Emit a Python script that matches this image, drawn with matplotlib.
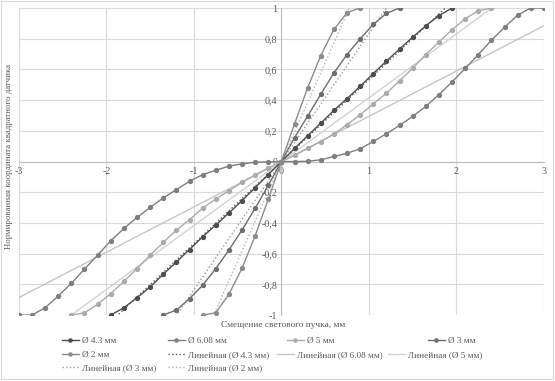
import numpy as np
import matplotlib
matplotlib.use('Agg')
import matplotlib.pyplot as plt
from matplotlib.patches import Rectangle

plt.rcParams['font.family'] = ['Liberation Serif', 'DejaVu Serif']

# смещение пучка, мм (шаг 0.15)
x_2 = np.round(np.arange(-0.9, 0.9001, 0.15), 2)
y_2 = [-1.0, -0.985, -0.865, -0.695, -0.484, -0.245, 0,
       0.245, 0.48, 0.69, 0.86, 0.97, 1.0]

x_3 = np.round(np.arange(-1.35, 1.3501, 0.15), 2)
y_3 = [-1.0, -0.967, -0.893, -0.806, -0.697, -0.577, -0.446, -0.305, -0.155, 0,
       0.155, 0.296, 0.438, 0.577, 0.697, 0.80, 0.893, 0.965, 1.0]

x_43 = np.round(np.arange(-1.95, 1.9501, 0.15), 2)
y_43 = [-1.0, -0.952, -0.887, -0.817, -0.734, -0.654, -0.573, -0.49, -0.414,
        -0.335, -0.255, -0.17, -0.085, 0,
        0.085, 0.168, 0.25, 0.333, 0.41, 0.49, 0.573, 0.654, 0.732, 0.81,
        0.884, 0.95, 1.0]

x_5 = np.round(np.arange(-2.4, 2.4001, 0.15), 2)
y_5 = [-1.0, -0.985, -0.93, -0.86, -0.78, -0.697, -0.61, -0.527, -0.446,
       -0.379, -0.303, -0.244, -0.19, -0.135, -0.088, -0.042, 0,
       0.04, 0.085, 0.13, 0.18, 0.24, 0.305, 0.375, 0.445, 0.525, 0.608,
       0.697, 0.778, 0.858, 0.93, 0.982, 1.0]

x_608 = np.round(np.arange(-3.0, 3.0001, 0.15), 2)
y_608 = [-1.0, -1.0, -0.952, -0.876, -0.793, -0.70, -0.61, -0.516, -0.436,
         -0.364, -0.299, -0.237, -0.183, -0.129, -0.085, -0.057, -0.03,
         -0.015, -0.005, -0.002, 0,
         0.0, 0.002, 0.011, 0.033, 0.054, 0.083, 0.131, 0.181, 0.235, 0.294,
         0.359, 0.436, 0.518, 0.606, 0.697, 0.79, 0.874, 0.954, 1.0, 1.0]

labels = ['Ø 4.3 мм', 'Ø 6.08 мм', 'Ø 5 мм', 'Ø 3 мм', 'Ø 2 мм']
xs = [x_43, x_608, x_5, x_3, x_2]
ys = [y_43, y_608, y_5, y_3, y_2]
colors = ['#4d4d4d', '#7f7f7f', '#ababab', '#6e6e6e', '#8c8c8c']
trend_colors = ['#5a5a5a', '#c6c6c6', '#d2d2d2', '#9a9a9a', '#b4b4b4']
trend_styles = [':', '-', '-', ':', ':']

txt = '#595959'

fig = plt.figure(figsize=(5.55, 3.81), dpi=100)
ax = fig.add_axes([0.034, 0.173, 0.946, 0.806])

handles = []
for x, y, lab, c in zip(xs, ys, labels, colors):
    h, = ax.plot(x, y, '-o', color=c, lw=1.0, ms=2.8, mfc=c, mec=c, label=lab, zorder=3)
    handles.append(h)

for x, y, lab, c, ls in zip(xs, ys, labels, trend_colors, trend_styles):
    k, b = np.polyfit(x, y, 1)
    xx = np.array([x.min(), x.max()])
    h, = ax.plot(xx, k * xx + b, ls, color=c, lw=1.0, label='Линейная (' + lab + ')', zorder=2)
    handles.append(h)

ax.set_xlim(-3, 3)
ax.set_ylim(-1, 1)
yt = np.round(np.arange(-1, 1.01, 0.2), 1)
ax.set_xticks(np.arange(-3, 4, 1))
ax.set_yticks(yt)
ax.set_xticklabels([str(v) for v in range(-3, 4)])
ax.set_yticklabels([('%g' % v).replace('.', ',') if abs(v) > 1e-9 else '0' for v in yt])
ax.grid(True, color='#d9d9d9', lw=0.8, zorder=0)
ax.set_axisbelow(True)

for s in ['top', 'right']:
    ax.spines[s].set_visible(False)
ax.spines['left'].set_position(('data', 0))
ax.spines['bottom'].set_position(('data', 0))
ax.spines['left'].set_color('#bfbfbf')
ax.spines['bottom'].set_color('#bfbfbf')
ax.tick_params(length=0, labelsize=7.2, labelcolor=txt)
ax.tick_params(axis='y', pad=3)
ax.tick_params(axis='x', pad=4)

fig.text(0.51, 0.148, 'Смещение светового пучка, мм', ha='center', va='center',
         fontsize=6.7, color=txt)
fig.text(0.016, 0.59, 'Нормированная координата квадратного датчика', ha='center',
         va='center', rotation=90, fontsize=6.3, color=txt)

# легенда: позиции элементов как в Excel (по строкам)
W, H = 555.0, 381.0
slots = [(62, 341), (168, 341), (287, 341), (428, 341),
         (62, 355), (168, 355), (277, 355), (388, 355),
         (62, 368), (168, 368)]
for h, (px, py) in zip(handles, slots):
    lg = fig.legend([h], [h.get_label()], loc='center left',
                    bbox_to_anchor=(px / W, 1 - py / H), frameon=False,
                    fontsize=6.6, handlelength=1.8, handletextpad=0.35,
                    borderpad=0, borderaxespad=0, markerscale=0.8)
    for t in lg.get_texts():
        t.set_color(txt)

fig.patches.append(Rectangle((0.002, 0.004), 0.995, 0.993, transform=fig.transFigure,
                             fill=False, edgecolor='#d9d9d9', lw=0.8))

fig.savefig('out.png', dpi=100)
